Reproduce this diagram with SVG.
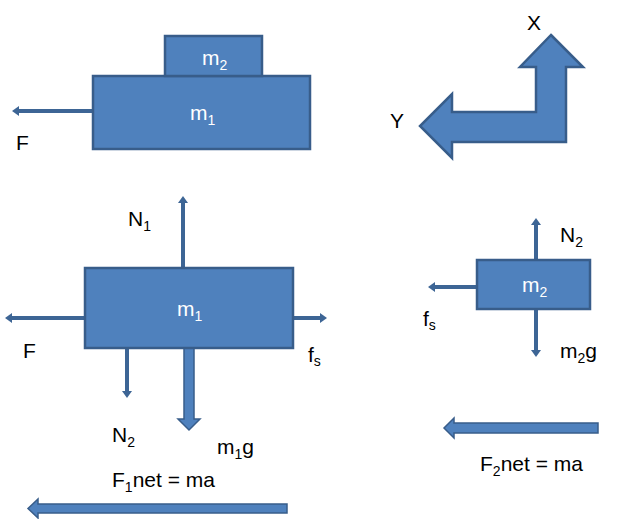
<svg xmlns="http://www.w3.org/2000/svg" width="640" height="519" viewBox="0 0 640 519">
<style>
.box{fill:#4f81bd;stroke:#385d8a;stroke-width:2.5}
.blk{fill:#4f81bd;stroke:#385d8a;stroke-width:1.5;stroke-linejoin:miter}
.thin{stroke:#3d6595;stroke-width:4;fill:none;marker-end:url(#ah)}
text{font-family:"Liberation Sans",Arial,sans-serif;font-size:21px;fill:#000}
.w{fill:#fff}
.sub{font-size:14px}
</style>
<defs>
<marker id="ah" markerUnits="userSpaceOnUse" markerWidth="8" markerHeight="12" refX="0" refY="6" orient="auto">
<path d="M0,1 L7,6 L0,11 z" fill="#3d6595"/>
</marker>
</defs>
<rect width="640" height="519" fill="#fff"/>

<g id="connectors">
<line class="thin" x1="93" y1="111" x2="19" y2="111"/>
<line class="thin" x1="183" y1="268" x2="183" y2="203"/>
<line class="thin" x1="85" y1="318" x2="12" y2="318"/>
<line class="thin" x1="293" y1="318" x2="320" y2="318"/>
<line class="thin" x1="127" y1="348" x2="127" y2="391"/>
<polygon class="blk" points="184,348 194,348 194,419 200,419 189,430 178,419 184,419"/>
<line class="thin" x1="536" y1="260" x2="536" y2="225"/>
<line class="thin" x1="536" y1="309" x2="536" y2="350"/>
<line class="thin" x1="477" y1="287" x2="435" y2="287"/>
<polygon class="blk" points="287,504 287,513 38,513 38,518 28,508.5 38,499 38,504"/>
<polygon class="blk" points="598,423 598,433 454,433 454,438 444,428 454,418 454,423"/>
</g>

<g id="top-m1">
<rect class="box" x="93" y="76" width="217" height="73"/>
<text class="w" x="190" y="120">m<tspan class="sub" dy="5">1</tspan></text>
</g>
<g id="top-m2">
<rect class="box" x="165" y="36" width="97" height="40"/>
<text class="w" x="202" y="65">m<tspan class="sub" dy="5">2</tspan></text>
</g>
<g id="top-F"><text x="16" y="150">F</text></g>

<g id="axes">
<polygon class="box" stroke-width="2" points="551,35 583,67 566,67 566,142 452,142 452,158 420,126 452,94 452,112 536,112 536,67 520,67"/>
<text x="527" y="30">X</text>
<text x="390" y="128">Y</text>
</g>

<g id="fbd-m1">
<rect class="box" x="85" y="268" width="208" height="80"/>
<text class="w" x="177" y="316">m<tspan class="sub" dy="5">1</tspan></text>
</g>
<g id="labels-m1">
<text x="128" y="226">N<tspan class="sub" dy="5">1</tspan></text>
<text x="23" y="358">F</text>
<text x="308" y="362">f<tspan class="sub" dy="4">s</tspan></text>
<text x="112" y="442">N<tspan class="sub" dy="5">2</tspan></text>
<text x="217" y="454">m<tspan class="sub" dy="5">1</tspan><tspan dy="-5">g</tspan></text>
<text x="112" y="487">F<tspan class="sub" dy="5">1</tspan><tspan dy="-5">net = ma</tspan></text>
</g>

<g id="fbd-m2">
<rect class="box" x="477" y="260" width="113" height="49"/>
<text class="w" x="522" y="292">m<tspan class="sub" dy="5">2</tspan></text>
</g>
<g id="labels-m2">
<text x="560" y="242">N<tspan class="sub" dy="5">2</tspan></text>
<text x="423" y="326">f<tspan class="sub" dy="4">s</tspan></text>
<text x="560" y="358">m<tspan class="sub" dy="5">2</tspan><tspan dy="-5">g</tspan></text>
<text x="480" y="471">F<tspan class="sub" dy="5">2</tspan><tspan dy="-5">net = ma</tspan></text>
</g>
</svg>
